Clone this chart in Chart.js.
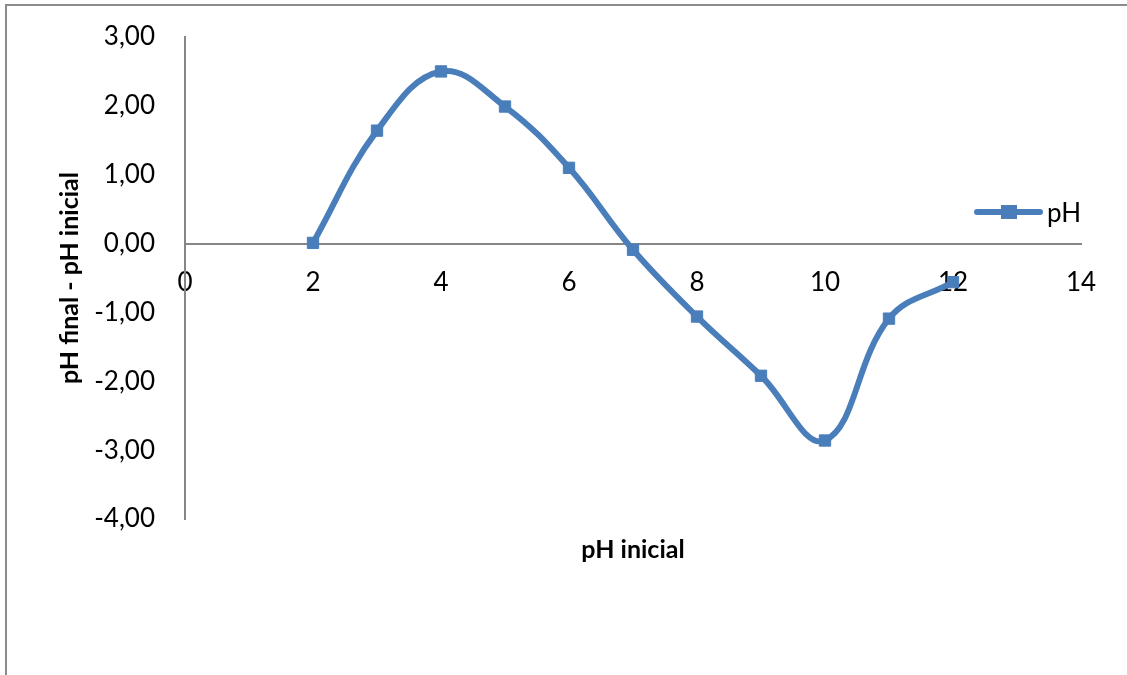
<!DOCTYPE html>
<html>
<head>
<meta charset="utf-8">
<script src="https://cdn.jsdelivr.net/npm/chart.js@4/dist/chart.umd.min.js"></script>
<style>
  html, body { margin: 0; padding: 0; background: #fff; overflow: hidden; }
  #wrap { position: relative; width: 1127px; height: 675px; }
  #frame { position: absolute; left: 5px; top: 4px; width: 1200px; height: 800px;
           border-left: 2px solid #8c8c8c; border-top: 2px solid #8c8c8c; }
  canvas { position: absolute; left: 0; top: 0; }
</style>
</head>
<body>
<div id="wrap">
  <div id="frame"></div>
  <canvas id="grafico"></canvas>
</div>
<script>
// dados
const phInicial = [2, 3, 4, 5, 6, 7, 8, 9, 10, 11, 12];
const phDiferenca = [0.01, 1.64, 2.50, 1.99, 1.10, -0.09, -1.06, -1.92, -2.86, -1.09, -0.56];
const nomeSerie = 'pH';

const azul = '#4a7ebb';
const cinza = '#868686';
const fonte = 'Lato, "Open Sans", sans-serif';

// legenda desenhada à mão (linha + quadrado + texto)
const legendaPlugin = {
  id: 'legendaManual',
  afterDraw(chart) {
    const ctx = chart.ctx;
    const ds = chart.data.datasets[0];
    const y = 212;
    ctx.save();
    ctx.strokeStyle = ds.borderColor;
    ctx.lineWidth = 6;
    ctx.lineCap = 'round';
    ctx.beginPath();
    ctx.moveTo(977, y);
    ctx.lineTo(1040, y);
    ctx.stroke();
    ctx.fillStyle = ds.pointBackgroundColor;
    ctx.fillRect(1001, y - 7, 16, 14);
    ctx.fillStyle = '#000';
    ctx.font = '26px ' + fonte;
    ctx.textBaseline = 'middle';
    ctx.fillText(ds.label, 1047, y + 2);
    ctx.restore();
  }
};

const ctx = document.getElementById('grafico').getContext('2d');
new Chart(ctx, {
  type: 'line',
  data: {
    datasets: [{
      label: nomeSerie,
      data: phInicial.map((x, i) => ({ x: x, y: phDiferenca[i] })),
      borderColor: azul,
      backgroundColor: azul,
      pointBackgroundColor: azul,
      pointBorderColor: azul,
      borderWidth: 6,
      pointStyle: 'rect',
      pointRadius: 8,
      pointBorderWidth: 1,
      tension: 0.4,
      fill: false,
    }],
  },
  plugins: [legendaPlugin],
  options: {
    responsive: true,
    maintainAspectRatio: false,
    animation: false,
    layout: { padding: { left: 0, top: 37, right: 46, bottom: 0 } },
    plugins: {
      legend: { display: false },
      tooltip: { enabled: false },
    },
    scales: {
      x: {
        type: 'linear',
        min: 0,
        max: 14,
        position: { y: 0 },
        grid: { display: false, drawTicks: false },
        border: { display: true, color: cinza, width: 2 },
        ticks: { stepSize: 2, padding: 23, color: '#000', font: { family: fonte, size: 26 } },
      },
      xTitulo: {
        type: 'linear',
        min: 0,
        max: 14,
        position: 'bottom',
        grid: { display: false, drawTicks: false },
        border: { display: false },
        ticks: { display: false },
        title: {
          display: true,
          text: 'pH inicial',
          color: '#000',
          font: { family: fonte, size: 25, weight: 'bold' },
          padding: { top: 0, bottom: 110 },
        },
        afterFit(scale) { scale.height = 156; },
      },
      y: {
        min: -4,
        max: 3,
        grid: { display: false, drawTicks: false },
        border: { display: true, color: cinza, width: 2 },
        ticks: {
          stepSize: 1,
          padding: 30,
          color: '#000',
          font: { family: fonte, size: 26 },
          callback: (v) => v.toFixed(2).replace('.', ','),
        },
        title: {
          display: true,
          text: 'pH final - pH inicial',
          color: '#000',
          font: { family: fonte, size: 25, weight: 'bold' },
          padding: { top: 55, bottom: 0 },
        },
        afterFit(scale) {
          scale.width = 185;
          scale.paddingTop = 0;
          scale.paddingBottom = 0;
        },
      },
    },
  },
});
</script>
</body>
</html>
